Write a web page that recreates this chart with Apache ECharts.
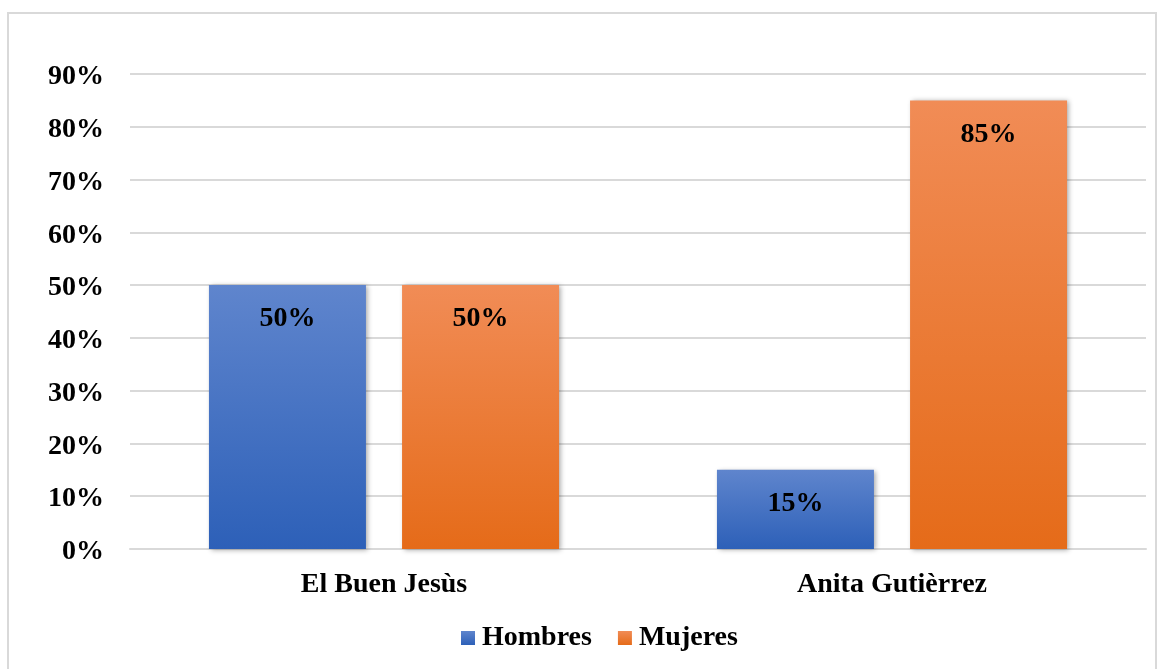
<!DOCTYPE html>
<html>
<head>
<meta charset="utf-8">
<script src="https://cdn.jsdelivr.net/npm/echarts@6/dist/echarts.min.js"></script>
<style>
  html, body { margin: 0; padding: 0; background: #ffffff; }
  #frame { position: absolute; left: 7px; top: 12px; width: 1150px; height: 670px; border: 2px solid #d9d9d9; box-sizing: border-box; }
  #chart { position: absolute; left: 0; top: 0; width: 1165px; height: 669px; }
</style>
</head>
<body>
<div id="frame"></div>
<div id="chart"></div>
<script>
const categories = ['El Buen Jesùs', 'Anita Gutièrrez'];
const hombres = [50, 15];
const mujeres = [50, 85];
const yTicks = [0, 10, 20, 30, 40, 50, 60, 70, 80, 90];

const fontFamily = '"Liberation Serif", "Times New Roman", serif';

function grad(top, bottom) {
  return new echarts.graphic.LinearGradient(0, 0, 0, 1, [
    { offset: 0, color: top },
    { offset: 1, color: bottom }
  ]);
}

const barLabel = {
  show: true,
  position: 'insideTop',
  distance: 20,
  formatter: p => p.value + '%',
  color: '#000',
  fontFamily: fontFamily,
  fontWeight: 'bold',
  fontSize: 28
};

const shadow = {
  shadowColor: 'rgba(0,0,0,0.35)',
  shadowBlur: 5,
  shadowOffsetX: 2,
  shadowOffsetY: 1
};

const tickStyle = { fontFamily: fontFamily, fontWeight: 'bold', fontSize: 28, color: '#000' };

const chart = echarts.init(document.getElementById('chart'));
chart.setOption({
  animation: false,
  grid: { left: 130, right: 19, top: 74, bottom: 120, containLabel: false },
  legend: {
    bottom: 12,
    left: 456,
    itemWidth: 14,
    itemHeight: 14,
    itemGap: 26,
    icon: 'rect',
    textStyle: { fontFamily: fontFamily, fontWeight: 'bold', fontSize: 28, color: '#000', padding: [0, 0, 0, 2] },
    data: ['Hombres', 'Mujeres']
  },
  xAxis: {
    type: 'category',
    data: categories,
    axisLine: { lineStyle: { color: '#d9d9d9', width: 2 } },
    axisTick: { show: false },
    axisLabel: Object.assign({ margin: 22 }, tickStyle)
  },
  yAxis: {
    type: 'value',
    min: yTicks[0],
    max: yTicks[yTicks.length - 1],
    interval: 10,
    axisLine: { show: false },
    axisTick: { show: false },
    splitLine: { lineStyle: { color: '#d9d9d9', width: 2 } },
    axisLabel: Object.assign({
      margin: 26,
      formatter: v => '{t|' + v + '%}',
      rich: { t: Object.assign({ padding: [6, 0, 0, 0] }, tickStyle) }
    }, tickStyle)
  },
  series: [
    {
      name: 'Hombres',
      type: 'bar',
      data: hombres,
      barWidth: 157,
      barGap: '23%',
      itemStyle: Object.assign({ color: grad('#5f85cd', '#2d60b8') }, shadow),
      label: barLabel
    },
    {
      name: 'Mujeres',
      type: 'bar',
      data: mujeres,
      barWidth: 157,
      itemStyle: Object.assign({ color: grad('#f18c56', '#e56b19') }, shadow),
      label: barLabel
    }
  ]
});
</script>
</body>
</html>
